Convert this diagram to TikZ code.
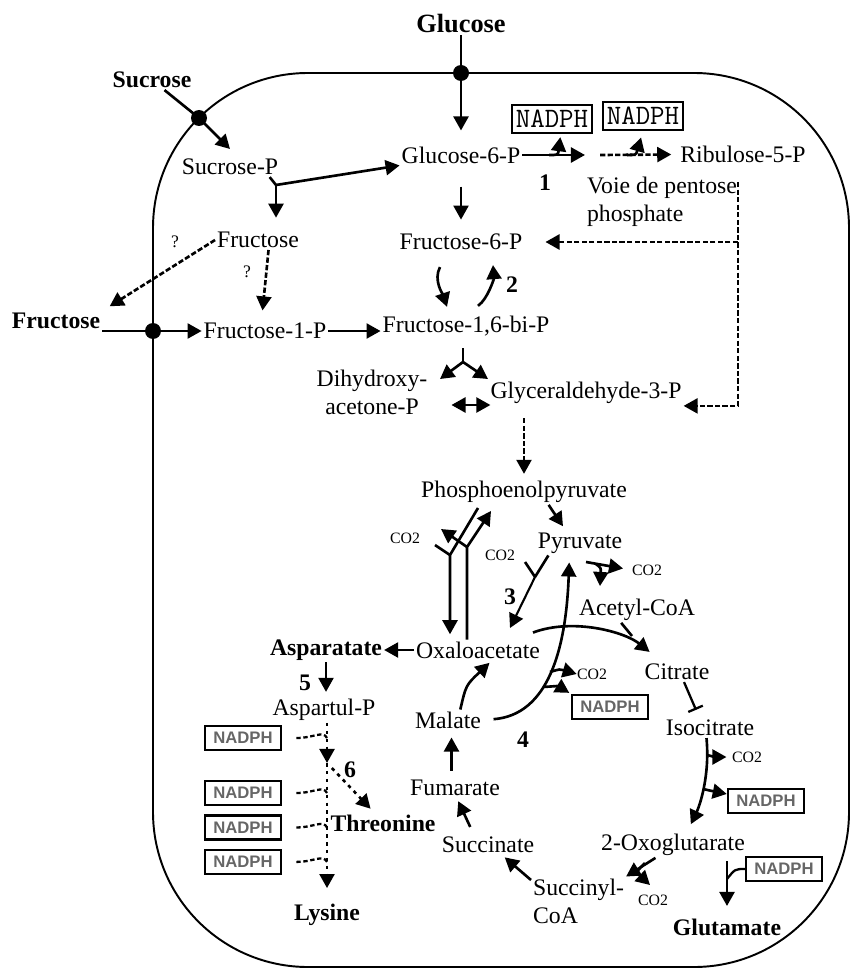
\documentclass[tikz,border=0pt]{standalone}
\usepackage{fontspec}
\setmainfont{Liberation Serif}
\setsansfont{Liberation Sans}
\usetikzlibrary{arrows.meta,positioning}

\begin{document}
\begin{tikzpicture}[
    x=0.02cm, y=-0.02cm,
    met/.style={font=\fontsize{13.5}{16}\selectfont, inner sep=1pt},
    ext/.style={font=\fontsize{13.5}{16}\selectfont\bfseries, inner sep=1pt},
    num/.style={font=\fontsize{13.5}{16}\selectfont\bfseries, inner sep=0pt},
    co/.style={font=\fontsize{9}{10}\selectfont, inner sep=0pt},
    qm/.style={font=\fontsize{10}{12}\selectfont, inner sep=0pt},
    nadph/.style={draw, line width=0.8pt, inner sep=0pt, minimum width=1.6cm,
                  minimum height=0.56cm, font=\ttfamily\fontsize{16}{16}\selectfont},
    nadphb/.style={draw, line width=1.4pt, inner sep=0pt, minimum width=1.52cm,
                   minimum height=0.48cm, text=black!60,
                   font=\sffamily\bfseries\fontsize{9.5}{10}\selectfont},
    flow/.style={line width=1.5pt, -{Triangle[length=8pt,width=8.5pt]}},
    dflow/.style={flow, dash pattern=on 3pt off 1.3pt},
    lflow/.style={flow, dash pattern=on 2pt off 2.5pt},
    bflow/.style={line width=1.5pt,
                  {Triangle[length=8pt,width=8.5pt]}-{Triangle[length=8pt,width=8.5pt]}},
    link/.style={line width=1.5pt},
    pore/.style={circle, fill, inner sep=0pt, minimum size=0.32cm},
  ]
    \useasboundingbox (0,0) rectangle (850,973);
    \draw[line width=1.1pt, rounded corners=3.1cm] (153,73) rectangle (849,967);

    \node[ext, font=\fontsize{15}{16}\selectfont\bfseries] (glcout) at (461,24) {Glucose};
    \node[ext] (sucout) at (152,80) {Sucrose};
    \node[ext] (fruout) at (56,321) {Fructose};
    \node[met] (sucp) at (230,167) {Sucrose-P};
    \node[met] (g6p) at (461,155) {Glucose-6-P};
    \node[nadph] (nadph1) at (552,119) {NADPH};
    \node[nadph] (nadph2) at (643,116) {NADPH};
    \node[met] (ru5p) at (743,154) {Ribulose-5-P};
    \node[met, anchor=west, align=left] (ppp) at (585,202) {Voie de pentose\\phosphate};
    \node[num] (n1) at (545,183) {1};
    \node[met] (fru) at (258,240) {Fructose};
    \node[qm] (q1) at (175,242) {?};
    \node[qm] (q2) at (247,272) {?};
    \node[met] (f6p) at (461,242) {Fructose-6-P};
    \node[num] (n2) at (512,285) {2};
    \node[met] (f1p) at (265,331) {Fructose-1-P};
    \node[met] (fbp) at (466,326) {Fructose-1,6-bi-P};
    \node[met, align=center] (dhap) at (372,392) {Dihydroxy-\\acetone-P};
    \node[met] (g3p) at (586,393) {Glyceraldehyde-3-P};
    \node[met] (pep) at (524,492) {Phosphoenolpyruvate};
    \node[met] (pyr) at (580,543) {Pyruvate};
    \node[co] (co2a) at (405,538) {CO2};
    \node[co] (co2b) at (500,555) {CO2};
    \node[co] (co2c) at (647,570) {CO2};
    \node[num] (n3) at (510,597) {3};
    \node[met] (acoa) at (637,610) {Acetyl-CoA};
    \node[met] (oaa) at (478,650) {Oxaloacetate};
    \node[ext] (asp) at (326,650) {Asparatate};
    \node[num] (n5) at (305,683) {5};
    \node[met] (asppl) at (324,710) {Aspartul-P};
    \node[met] (cit) at (677,672) {Citrate};
    \node[co] (co2d) at (592,674) {CO2};
    \node[nadphb] (nd1) at (610,707) {NADPH};
    \node[met] (mal) at (448,720) {Malate};
    \node[met] (icit) at (710,728) {Isocitrate};
    \node[num] (n4) at (523,740) {4};
    \node[co] (co2e) at (747,757) {CO2};
    \node[nadphb] (nd2) at (766,801) {NADPH};
    \node[met] (fum) at (455,788) {Fumarate};
    \node[met] (akg) at (673,845) {2-Oxoglutarate};
    \node[met] (suc) at (488,845) {Succinate};
    \node[nadphb] (nd3) at (784,869) {NADPH};
    \node[met, anchor=west, align=left] (sccoa) at (531,901) {Succinyl-\\CoA};
    \node[co] (co2f) at (653,900) {CO2};
    \node[ext] (glu) at (727,927) {Glutamate};
    \node[nadphb] (nl1) at (243,738) {NADPH};
    \node[nadphb] (nl2) at (243,793) {NADPH};
    \node[nadphb, below=0.16cm of nl2] (nl3) {NADPH};
    \node[nadphb, below=0.16cm of nl3] (nl4) {NADPH};
    \node[num] (n6) at (350,770) {6};
    \node[ext] (thr) at (383,823) {Threonine};
    \node[ext] (lys) at (327,915) {Lysine};

    \coordinate (sucin) at (230,149);
    \coordinate (spj) at (276,185);
    \coordinate (pp1) at (585,155);
    \coordinate (pp2) at (600,155);
    \coordinate (br1) at (549,155);
    \coordinate (br2) at (627,155);
    \coordinate (pppv) at (738,182);
    \coordinate (fbs) at (463,348);
    \coordinate (fbj) at (463,362);
    \coordinate (dhapin) at (440,379);
    \coordinate (g3pin) at (488,379);
    \coordinate (pl0) at (478,508);
    \coordinate (pl1) at (450,555);
    \coordinate (plc) at (435,545);
    \coordinate (pr1) at (467,547);
    \coordinate (pr0) at (491,511);
    \coordinate (prc) at (441,529);
    \coordinate (p3j) at (535,577);
    \coordinate (p3c) at (525,562);
    \coordinate (p3t) at (510,628);
    \coordinate (pcj) at (586,562);
    \coordinate (pcb) at (596,564);
    \coordinate (pcd) at (600,586);
    \coordinate (acj) at (632,636);
    \coordinate (m4a) at (550,672);
    \coordinate (m4b) at (543,687);
    \coordinate (ic1) at (707,755);
    \coordinate (ic2) at (703,789);
    \coordinate (ak1) at (645,863);
    \coordinate (gj) at (727,879);
    \coordinate (ly1) at (327,763);

    \draw[flow, shorten >=8pt] (glcout) -- (461,73) -- (g6p);
    \draw[flow] (sucout) -- (199,118) -- (sucin);
    \draw[flow] (fruout.east |- 0,331) -- (153,331) -- (f1p);
    \node[pore] (pglc) at (461,73) {};
    \node[pore] (psuc) at (199,118) {};
    \node[pore] (pfru) at (153,331) {};

    \draw[link] ([xshift=-6pt]sucp.south east) -- (spj);
    \draw[flow] (spj) -- (g6p.south west);
    \draw[flow, shorten >=7pt] (spj) -- (spj |- fru.north);
    \draw[dflow, shorten >=5pt] (fru.west) -- (fruout.north east);
    \draw[dflow, shorten >=6pt] ([xshift=6pt]fru.south) -- ([xshift=-2pt]f1p.north);
    \draw[flow] (f1p.east) -- (f1p.east -| fbp.west);

    \draw[flow] (g6p) -- (pp1);
    \draw[dflow, shorten >=4pt] (pp2) -- (ru5p);
    \draw[flow, shorten >=2pt] (br1) .. controls (558,155) .. ([xshift=5pt]nadph1.south);
    \draw[dflow, shorten >=4pt] (br2) .. controls (636,155) .. (nadph2.south);
    \draw[dflow] (pppv) |- (g3p.south east);
    \draw[dflow, shorten >=12pt] (pppv |- f6p) -- (f6p.east);

    \draw[flow, shorten <=12pt, shorten >=7pt] (g6p) -- (f6p);
    \draw[flow] ([shift={(-21,15)}]f6p.south) .. controls +(-7,13) and +(-4,-12) .. ([shift={(-19,-7)}]fbp.north);
    \draw[flow] ([shift={(12,-8)}]fbp.north) .. controls +(10,-7) and +(1,13) .. ([shift={(32,13)}]f6p.south);
    \draw[link] (fbs) -- (fbj);
    \draw[flow] (fbj) -- (dhapin);
    \draw[flow] (fbj) -- (g3pin);
    \draw[bflow] ([shift={(22,13)}]dhap.east) -- ([shift={(2,12)}]g3p.west);

    \draw[dflow, shorten <=7pt, shorten >=3pt] (pep.north |- g3p.south) -- (pep.north);
    \draw[flow, shorten >=3pt] ([xshift=14pt]pep.south) -- ([xshift=-8pt]pyr.north);

    \draw[flow, shorten >=3pt] (pl0) -- (pl1) -- (pl1 |- oaa.north);
    \draw[link] (plc) -- (pl1);
    \draw[flow] (pr1 |- oaa.north) -- (pr1) -- (pr0);
    \draw[flow] (pr1) -- (prc);

    \draw[link] ([xshift=-18pt]pyr.south) -- (p3j);
    \draw[link] (p3c) -- (p3j);
    \draw[flow, line width=1.2pt] (p3j) -- (p3t);
    \draw[flow, shorten >=5pt] (pcj) -- (co2c.west);
    \draw[flow] (pcb) .. controls (601,568) .. (pcd);

    \draw[flow] ([shift={(-9,-7)}]oaa.north east) .. controls +(40,-15) and +(-25,-20) .. ([shift={(7,-10)}]cit.north west);
    \draw[link] ([xshift=-9pt]acoa.south) -- (acj);
    \draw[flow] (oaa.west) -- (asp.east);
    \draw[flow, shorten >=3pt] (asp.south) -- (asp.south |- asppl.north);

    \draw[flow, shorten <=6pt, shorten >=4pt] (mal.east) .. controls (548,715) and (566,650) .. ([xshift=-6pt]pyr.south);
    \draw[flow] (m4a) .. controls (560,669) .. (co2d.west);
    \draw[flow, shorten >=1pt] (m4b) .. controls (558,686) .. (nd1.north west);
    \draw[flow, shorten >=2pt] ([xshift=7pt]mal.north) .. controls (466,685) .. ([xshift=8pt]oaa.south);
    \draw[flow, shorten <=4pt, shorten >=4pt] ([xshift=-2pt]fum.north) -- ([xshift=2pt]mal.south);
    \draw[flow, shorten <=5pt, shorten >=2pt] ([xshift=-8pt]suc.north) -- ([xshift=1pt]fum.south);
    \draw[flow, shorten >=2pt] ([yshift=-2pt]sccoa.north west) -- ([xshift=8pt]suc.south);

    \draw[line width=1.3pt, -{Bar[width=9pt]}, shorten >=5pt] ([xshift=4pt]cit.south) -- ([xshift=-6pt]icit.north);
    \draw[flow, shorten >=5pt] ([xshift=-2pt]icit.south) .. controls (710,775) and (700,805) .. ([xshift=8pt]akg.north);
    \draw[flow, shorten >=3pt] (ic1) .. controls (715,757) .. (co2e.west);
    \draw[flow] (ic2) .. controls (712,791) .. ([yshift=4pt]nd2.west);

    \draw[flow] ([xshift=-10pt]akg.south) -- (sccoa.north east);
    \draw[flow] (ak1) .. controls (636,872) .. (650,885);
    \draw[flow, shorten <=2pt, shorten >=6pt] (akg.south -| glu) -- (glu);
    \draw[line width=1.3pt] (nd3.west) .. controls (735,869) .. (gj);

    \draw[lflow] (asppl.south -| lys) -- (ly1);
    \draw[lflow, shorten >=8pt] (ly1) -- (lys);
    \draw[lflow, shorten <=4pt, shorten >=3pt] (ly1) -- ([xshift=-5pt]thr.north);
    \foreach \b in {nl1,nl2,nl3,nl4}
      \draw[line width=1.3pt, dash pattern=on 2.5pt off 1.5pt]
        ([xshift=8pt]\b.east) .. controls +(18,0) and +(-4,-8) .. (\b.east -| lys);
\end{tikzpicture}
\end{document}
